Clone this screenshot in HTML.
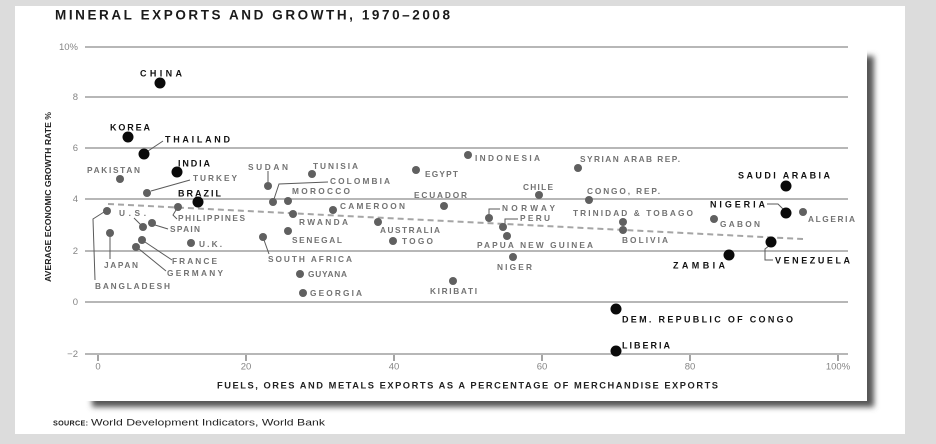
<!DOCTYPE html>
<html><head><meta charset="utf-8"><style>
html,body{margin:0;padding:0;background:#dcdcdc;}
svg{display:block;}
text{font-family:"Liberation Sans",sans-serif;}
.g{fill:#727272;font-size:8.3px;font-weight:bold;}
.b{fill:#111;font-size:9px;font-weight:bold;}
.t{fill:#858585;font-size:9.5px;}
</style></head><body>
<svg width="936" height="444" viewBox="0 0 936 444" xmlns="http://www.w3.org/2000/svg">
<defs>
<filter id="sh" x="-5%" y="-5%" width="110%" height="110%"><feGaussianBlur stdDeviation="3"/></filter>
</defs>
<rect x="0" y="0" width="936" height="444" fill="#dcdcdc"/>
<rect x="15" y="6" width="890" height="428" fill="#ffffff"/>
<!-- inner shadow -->
<rect x="92" y="56" width="782" height="351" fill="#555" filter="url(#sh)"/>
<rect x="15" y="6" width="852" height="395" fill="#ffffff"/>

<!-- title -->
<text x="55" y="19.5" font-size="13.5" font-weight="bold" fill="#1a1a1a" textLength="395" lengthAdjust="spacing">MINERAL EXPORTS AND GROWTH, 1970–2008</text>

<!-- gridlines -->
<g stroke="#adadad" stroke-width="1.7">
<line x1="85" y1="47" x2="848" y2="47"/>
<line x1="85" y1="97" x2="848" y2="97"/>
<line x1="85" y1="148" x2="848" y2="148"/>
<line x1="85" y1="199" x2="848" y2="199"/>
<line x1="85" y1="251" x2="848" y2="251"/>
<line x1="85" y1="302" x2="848" y2="302"/>
<line x1="85" y1="354" x2="848" y2="354"/>
</g>
<!-- y tick labels -->
<g class="t" text-anchor="end">
<text x="78" y="50">10%</text>
<text x="78" y="100">8</text>
<text x="78" y="151">6</text>
<text x="78" y="202">4</text>
<text x="78" y="254">2</text>
<text x="78" y="305">0</text>
<text x="78" y="357">−2</text>
</g>
<!-- x ticks -->
<g stroke="#666" stroke-width="1.2">
<line x1="98" y1="355" x2="98" y2="361"/>
<line x1="246" y1="355" x2="246" y2="361"/>
<line x1="394" y1="355" x2="394" y2="361"/>
<line x1="542" y1="355" x2="542" y2="361"/>
<line x1="690" y1="355" x2="690" y2="361"/>
<line x1="838" y1="355" x2="838" y2="361"/>
</g>
<g class="t" text-anchor="middle">
<text x="98" y="369.5">0</text>
<text x="246" y="369.5">20</text>
<text x="394" y="369.5">40</text>
<text x="542" y="369.5">60</text>
<text x="690" y="369.5">80</text>
<text x="838" y="369.5">100%</text>
</g>
<!-- axis titles -->
<text x="217" y="388.5" font-size="9.3" font-weight="bold" fill="#222" textLength="501" lengthAdjust="spacing">FUELS, ORES AND METALS EXPORTS AS A PERCENTAGE OF MERCHANDISE EXPORTS</text>
<text transform="translate(51,197) rotate(-90)" x="0" y="0" text-anchor="middle" font-size="8.5" font-weight="bold" fill="#222" textLength="170" lengthAdjust="spacingAndGlyphs">AVERAGE ECONOMIC GROWTH RATE %</text>

<!-- source -->
<text x="53" y="425.5" font-size="7.2" font-weight="bold" fill="#222" textLength="35" lengthAdjust="spacing">SOURCE:</text>
<text x="91" y="425.5" font-size="9.5" fill="#222" textLength="234" lengthAdjust="spacingAndGlyphs">World Development Indicators, World Bank</text>

<!-- trend -->
<line x1="108" y1="204" x2="803" y2="239" stroke="#a5a5a5" stroke-width="2" stroke-dasharray="6,4"/>

<!-- leader lines -->
<g stroke="#5a5a5a" stroke-width="1" fill="none">
<polyline points="148,151 163,141"/>
<polyline points="151,191 190,180"/>
<polyline points="268,182 268,171"/>
<polyline points="274,199 279,184 328,182"/>
<polyline points="489,215 489,209 500,209"/>
<polyline points="505,224 505,219 518,219"/>
<polyline points="104,212 93,219 95,280"/>
<polyline points="134,218 141,225"/>
<polyline points="155,225 168,229"/>
<polyline points="176,210 173,215 177,219"/>
<polyline points="110,236 110,259"/>
<polyline points="145,242 172,260"/>
<polyline points="139,249 166,271"/>
<polyline points="264,240 269,254"/>
<polyline points="767,204 778,204 784,210"/>
<polyline points="770,245 765,249 765,260 773,260"/>
</g>

<!-- grey dots -->
<g fill="#606060">
<circle cx="120" cy="179" r="4"/>
<circle cx="147" cy="193" r="4"/>
<circle cx="268" cy="186" r="4"/>
<circle cx="312" cy="174" r="4"/>
<circle cx="273" cy="202" r="4"/>
<circle cx="288" cy="201" r="4"/>
<circle cx="416" cy="170" r="4"/>
<circle cx="468" cy="155" r="4"/>
<circle cx="444" cy="206" r="4"/>
<circle cx="333" cy="210" r="4"/>
<circle cx="378" cy="222" r="4"/>
<circle cx="393" cy="241" r="4"/>
<circle cx="489" cy="218" r="4"/>
<circle cx="503" cy="227" r="4"/>
<circle cx="507" cy="236" r="4"/>
<circle cx="513" cy="257" r="4"/>
<circle cx="453" cy="281" r="4"/>
<circle cx="539" cy="195" r="4"/>
<circle cx="589" cy="200" r="4"/>
<circle cx="578" cy="168" r="4"/>
<circle cx="623" cy="222" r="4"/>
<circle cx="623" cy="230" r="4"/>
<circle cx="714" cy="219" r="4"/>
<circle cx="803" cy="212" r="4"/>
<circle cx="107" cy="211" r="4"/>
<circle cx="143" cy="227" r="4"/>
<circle cx="152" cy="223" r="4"/>
<circle cx="178" cy="207" r="4"/>
<circle cx="110" cy="233" r="4"/>
<circle cx="142" cy="240" r="4"/>
<circle cx="136" cy="247" r="4"/>
<circle cx="191" cy="243" r="4"/>
<circle cx="263" cy="237" r="4"/>
<circle cx="288" cy="231" r="4"/>
<circle cx="293" cy="214" r="4"/>
<circle cx="300" cy="274" r="4"/>
<circle cx="303" cy="293" r="4"/>
</g>
<!-- black dots -->
<g fill="#0a0a0a">
<circle cx="160" cy="83" r="5.5"/>
<circle cx="128" cy="137" r="5.5"/>
<circle cx="144" cy="154" r="5.5"/>
<circle cx="177" cy="172" r="5.5"/>
<circle cx="198" cy="202" r="5.5"/>
<circle cx="786" cy="186" r="5.5"/>
<circle cx="786" cy="213" r="5.5"/>
<circle cx="729" cy="255" r="5.5"/>
<circle cx="771" cy="242" r="5.5"/>
<circle cx="616" cy="309" r="5.5"/>
<circle cx="616" cy="351" r="5.5"/>
</g>

<!-- bold labels -->
<g class="b">
<text x="140" y="76.5" textLength="42" lengthAdjust="spacing">CHINA</text>
<text x="110" y="130.5" textLength="40" lengthAdjust="spacing">KOREA</text>
<text x="165" y="142.5" textLength="65" lengthAdjust="spacing">THAILAND</text>
<text x="178" y="166.5" textLength="32" lengthAdjust="spacing">INDIA</text>
<text x="178" y="196.5" textLength="43" lengthAdjust="spacing">BRAZIL</text>
<text x="738" y="178.5" textLength="92" lengthAdjust="spacing">SAUDI ARABIA</text>
<text x="710" y="207.5" textLength="55" lengthAdjust="spacing">NIGERIA</text>
<text x="673" y="268.5" textLength="52" lengthAdjust="spacing">ZAMBIA</text>
<text x="775" y="263.5" textLength="75" lengthAdjust="spacing">VENEZUELA</text>
<text x="622" y="322.5" textLength="171" lengthAdjust="spacing">DEM. REPUBLIC OF CONGO</text>
<text x="622" y="348.5" textLength="48" lengthAdjust="spacing">LIBERIA</text>
</g>

<!-- grey labels -->
<g class="g">
<text x="87" y="173" textLength="53" lengthAdjust="spacing">PAKISTAN</text>
<text x="193" y="181" textLength="44" lengthAdjust="spacing">TURKEY</text>
<text x="248" y="170" textLength="40" lengthAdjust="spacing">SUDAN</text>
<text x="313" y="169" textLength="45" lengthAdjust="spacing">TUNISIA</text>
<text x="330" y="184" textLength="60" lengthAdjust="spacing">COLOMBIA</text>
<text x="292" y="194" textLength="58" lengthAdjust="spacing">MOROCCO</text>
<text x="425" y="177" textLength="33" lengthAdjust="spacing">EGYPT</text>
<text x="475" y="161" textLength="65" lengthAdjust="spacing">INDONESIA</text>
<text x="414" y="198" textLength="53" lengthAdjust="spacing">ECUADOR</text>
<text x="340" y="209" textLength="65" lengthAdjust="spacing">CAMEROON</text>
<text x="380" y="233" textLength="60" lengthAdjust="spacing">AUSTRALIA</text>
<text x="402" y="244" textLength="31" lengthAdjust="spacing">TOGO</text>
<text x="502" y="211" textLength="53" lengthAdjust="spacing">NORWAY</text>
<text x="520" y="221" textLength="30" lengthAdjust="spacing">PERU</text>
<text x="477" y="248" textLength="116" lengthAdjust="spacing">PAPUA NEW GUINEA</text>
<text x="497" y="270" textLength="35" lengthAdjust="spacing">NIGER</text>
<text x="430" y="294" textLength="47" lengthAdjust="spacing">KIRIBATI</text>
<text x="523" y="190" textLength="30" lengthAdjust="spacing">CHILE</text>
<text x="587" y="194" textLength="73" lengthAdjust="spacing">CONGO, REP.</text>
<text x="580" y="162" textLength="100" lengthAdjust="spacing">SYRIAN ARAB REP.</text>
<text x="573" y="216" textLength="120" lengthAdjust="spacing">TRINIDAD &amp; TOBAGO</text>
<text x="622" y="243" textLength="46" lengthAdjust="spacing">BOLIVIA</text>
<text x="720" y="227" textLength="40" lengthAdjust="spacing">GABON</text>
<text x="808" y="222" textLength="47" lengthAdjust="spacing">ALGERIA</text>
<text x="95" y="289" textLength="75" lengthAdjust="spacing">BANGLADESH</text>
<text x="119" y="216" textLength="27" lengthAdjust="spacing">U.S.</text>
<text x="170" y="232" textLength="30" lengthAdjust="spacing">SPAIN</text>
<text x="178" y="221" textLength="67" lengthAdjust="spacing">PHILIPPINES</text>
<text x="104" y="268" textLength="34" lengthAdjust="spacing">JAPAN</text>
<text x="172" y="264" textLength="45" lengthAdjust="spacing">FRANCE</text>
<text x="167" y="276" textLength="56" lengthAdjust="spacing">GERMANY</text>
<text x="199" y="247" textLength="23" lengthAdjust="spacing">U.K.</text>
<text x="268" y="262" textLength="84" lengthAdjust="spacing">SOUTH AFRICA</text>
<text x="292" y="243" textLength="50" lengthAdjust="spacing">SENEGAL</text>
<text x="299" y="225" textLength="49" lengthAdjust="spacing">RWANDA</text>
<text x="308" y="277" textLength="39" lengthAdjust="spacing">GUYANA</text>
<text x="310" y="296" textLength="52" lengthAdjust="spacing">GEORGIA</text>
</g>
</svg>
</body></html>
